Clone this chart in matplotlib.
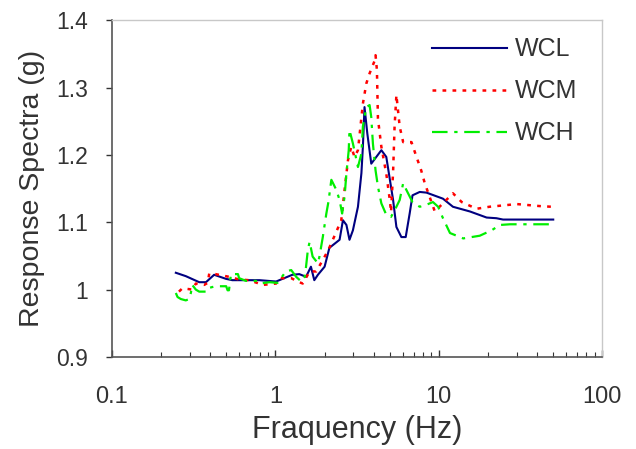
import matplotlib
matplotlib.use("Agg")
import matplotlib.pyplot as plt
from matplotlib.ticker import FuncFormatter, LogLocator

plt.rcParams['font.family'] = ['Liberation Sans', 'DejaVu Sans']

# WCL - navy solid
wcl_f = [0.246, 0.283, 0.342, 0.376, 0.422, 0.498, 0.545, 0.693, 0.80, 1.01, 1.27, 1.40, 1.54, 1.65,
         1.73, 1.82, 2.00, 2.14, 2.47, 2.59, 2.72, 2.84, 2.98, 3.20, 3.36, 3.43, 3.51, 3.65, 3.86,
         4.45, 4.77, 5.25, 5.50, 5.90, 6.27, 6.63, 6.9, 7.64, 8.4, 10.6, 12.2, 15.5, 19.6, 22.5, 24.7, 50.1]
wcl_v = [1.025, 1.020, 1.011, 1.011, 1.022, 1.016, 1.014, 1.014, 1.014, 1.012, 1.022, 1.023, 1.019, 1.034,
         1.014, 1.022, 1.034, 1.062, 1.074, 1.103, 1.096, 1.074, 1.088, 1.123, 1.173, 1.212, 1.271, 1.232, 1.187,
         1.207, 1.197, 1.133, 1.093, 1.078, 1.078, 1.113, 1.140, 1.145, 1.144, 1.135, 1.123, 1.116, 1.107, 1.106, 1.104, 1.104]

# WCM - red dotted
wcm_f = [0.257, 0.27, 0.311, 0.326, 0.367, 0.385, 0.394, 0.43, 0.52, 0.60, 0.69, 0.84, 1.01, 1.06, 1.25,
         1.37, 1.47, 1.62, 1.78, 1.95, 2.11, 2.36, 2.53, 2.65, 2.78, 2.91, 3.05, 3.2, 3.43, 3.6, 3.77, 4.05,
         4.1, 4.18, 4.24, 4.45, 4.77, 5.0, 5.1, 5.25, 5.36, 5.5, 5.76, 6.05, 6.8, 7.3, 7.8, 8.2, 9.45, 12.2,
         13.8, 17.0, 20.4, 30.0, 41.5, 49.0]
wcm_v = [0.997, 1.002, 1.000, 1.009, 1.007, 1.010, 1.024, 1.023, 1.019, 1.015, 1.014, 1.007, 1.009, 1.017, 1.017,
         1.012, 1.009, 1.027, 1.027, 1.044, 1.059, 1.086, 1.103, 1.148, 1.192, 1.212, 1.197, 1.207, 1.276, 1.306, 1.321, 1.340,
         1.348, 1.326, 1.254, 1.212, 1.172, 1.135, 1.115, 1.175, 1.242, 1.289, 1.242, 1.219, 1.219, 1.197, 1.177, 1.158, 1.116, 1.143,
         1.130, 1.120, 1.123, 1.127, 1.124, 1.123]

# WCH - green dash-dot
wch_f = [0.246, 0.252, 0.264, 0.283, 0.297, 0.304, 0.31, 0.326, 0.342, 0.376, 0.385, 0.43, 0.50, 0.51, 0.52,
         0.535, 0.59, 0.60, 0.66, 0.76, 0.80, 0.92, 1.03, 1.06, 1.16, 1.25, 1.34, 1.44, 1.51, 1.54, 1.58,
         1.62, 1.69, 1.82, 1.86, 1.95, 2.05, 2.11, 2.2, 2.36, 2.47, 2.56, 2.65, 2.72, 2.81, 2.84, 2.98, 3.2,
         3.36, 3.43, 3.6, 3.77, 3.86, 3.95, 4.1, 4.24, 4.45, 4.77, 5.1, 5.5, 5.76, 6.05, 6.33, 6.9, 7.64, 8.4,
         9.2, 9.9, 10.6, 11.7, 14.1, 17.8, 21.0, 23.7, 27.3, 50.0]
wch_v = [0.995, 0.989, 0.986, 0.984, 0.986, 0.995, 1.007, 1.000, 0.997, 0.997, 1.002, 1.005, 1.005, 0.999, 0.999,
         1.023, 1.023, 1.017, 1.013, 1.013, 1.009, 1.011, 1.010, 1.014, 1.027, 1.029, 1.019, 1.012, 1.019, 1.034, 1.059,
         1.071, 1.049, 1.039, 1.049, 1.078, 1.113, 1.130, 1.163, 1.148, 1.133, 1.113, 1.138, 1.173, 1.207, 1.237, 1.217, 1.182,
         1.202, 1.242, 1.271, 1.274, 1.256, 1.217, 1.177, 1.153, 1.128, 1.111, 1.108, 1.123, 1.133, 1.158, 1.148, 1.130, 1.123, 1.126,
         1.130, 1.123, 1.106, 1.084, 1.076, 1.080, 1.088, 1.096, 1.097, 1.097]

fig = plt.figure(figsize=(6.36, 4.49), dpi=100)
ax = fig.add_axes([0.176, 0.205, 0.771, 0.750])

ax.plot(wcl_f, wcl_v, color='#000080', lw=1.5, label='WCL')
ax.plot(wcm_f, wcm_v, color='#ff0000', lw=1.8, ls=(0, (1.5, 2.5)), label='WCM')
ax.plot(wch_f, wch_v, color='#00ee00', lw=1.6, ls=(0, (7, 3, 1.5, 3)), label='WCH')

ax.set_xscale('log')
ax.set_xlim(0.1, 100)
ax.set_ylim(0.9, 1.4)
ax.set_yticks([0.9, 1.0, 1.1, 1.2, 1.3, 1.4])
ax.yaxis.set_major_formatter(FuncFormatter(lambda v, p: f"{v:g}"))
ax.xaxis.set_major_formatter(FuncFormatter(lambda v, p: f"{v:g}"))
ax.xaxis.set_minor_locator(LogLocator(base=10, subs=range(2, 10)))

for s in ['left', 'bottom']:
    ax.spines[s].set_color('#555555')
    ax.spines[s].set_linewidth(1.2)
for s in ['top', 'right']:
    ax.spines[s].set_color('#c8c8c8')
    ax.spines[s].set_linewidth(1.0)

ax.tick_params(axis='x', which='major', direction='in', length=5, width=1, color='#333333',
               labelsize=17, labelcolor='#333333', pad=21)
ax.tick_params(axis='x', which='minor', direction='in', length=3.5, width=0.8, color='#333333')
ax.tick_params(axis='y', which='major', direction='out', length=4, width=1, color='#333333',
               labelsize=16.5, labelcolor='#333333', pad=13)

ax.set_xlabel('Fraquency (Hz)', fontsize=22, color='#333333', labelpad=5)
ax.set_ylabel('Response Spectra (g)', fontsize=20.5, color='#333333', labelpad=8)

ax.legend(loc='upper right', bbox_to_anchor=(0.995, 1.016), frameon=False, fontsize=18,
          handlelength=3.0, labelspacing=0.72, handletextpad=0.3, labelcolor='#333333')

fig.savefig('out.png', dpi=100)
